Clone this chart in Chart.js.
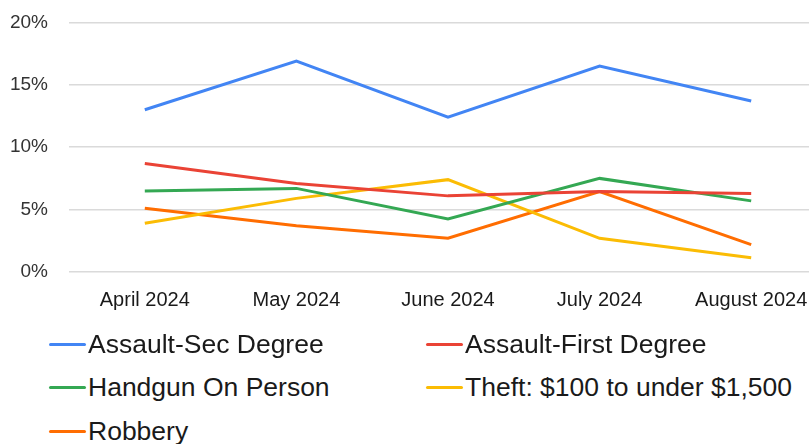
<!DOCTYPE html>
<html>
<head>
<meta charset="utf-8">
<script src="https://cdn.jsdelivr.net/npm/chart.js@4/dist/chart.umd.min.js"></script>
<style>
  html, body { margin: 0; padding: 0; background: #fff; overflow: hidden; }
  #wrap { position: relative; width: 827px; height: 338px; margin-top: -10px; }
  #legend { position: absolute; left: 0; top: 322px; width: 809px; }
  .item { position: absolute; display: flex; align-items: center; height: 44px;
          font-family: "Liberation Sans", sans-serif; font-size: 26.5px; color: #1a1a1a; }
  .item span.sw { display: inline-block; width: 37px; height: 3px; margin-right: 2px; border-radius: 2px; }
</style>
</head>
<body>
<div id="wrap"><canvas id="lineChart"></canvas></div>
<div id="legend"></div>
<script>
const months = ['April 2024', 'May 2024', 'June 2024', 'July 2024', 'August 2024'];
const seriesNames = ['Assault-Sec Degree', 'Assault-First Degree', 'Handgun On Person', 'Theft: $100 to under $1,500', 'Robbery'];
const assaultSec = [13.0, 16.9, 12.4, 16.5, 13.7];
const assaultFirst = [8.7, 7.1, 6.1, 6.45, 6.3];
const handgun = [6.5, 6.7, 4.25, 7.5, 5.7];
const theft = [3.9, 5.9, 7.4, 2.7, 1.15];
const robbery = [5.1, 3.7, 2.7, 6.45, 2.2];
const yTicks = [0, 5, 10, 15, 20];

const colors = ['#4285F4', '#EA4335', '#34A853', '#FBBC04', '#FF6D01'];
const allData = [assaultSec, assaultFirst, handgun, theft, robbery];

const datasets = seriesNames.map((name, i) => ({
    label: name,
    data: allData[i],
    borderColor: colors[i],
    backgroundColor: colors[i],
    borderWidth: 3,
    pointRadius: 0,
    tension: 0,
    fill: false
}));

new Chart(document.getElementById('lineChart'), {
    type: 'line',
    data: { labels: months, datasets: datasets },
    options: {
        responsive: true,
        maintainAspectRatio: false,
        animation: false,
        layout: { padding: { top: 7, right: 0, bottom: 0, left: 0 } },
        plugins: { legend: { display: false }, tooltip: { enabled: false } },
        scales: {
            x: {
                offset: true,
                grid: { display: false, drawTicks: false },
                border: { display: false },
                ticks: {
                    padding: 16,
                    color: '#1a1a1a',
                    maxRotation: 0,
                    font: { family: '"Liberation Sans", sans-serif', size: 20 }
                }
            },
            y: {
                min: 0,
                max: 20,
                afterBuildTicks: (scale) => { scale.ticks = yTicks.map(v => ({ value: v })); },
                afterFit: (scale) => { scale.width = 69; },
                grid: { color: '#dadada', lineWidth: 1.5, drawTicks: false },
                border: { display: false },
                ticks: {
                    padding: 21,
                    color: '#333',
                    callback: (v) => v + '%',
                    font: { family: '"Liberation Sans", sans-serif', size: 19 }
                }
            }
        }
    }
});

// legend in two columns, as in the original picture
const legendBox = document.getElementById('legend');
const colLeft = [49, 426];
seriesNames.forEach((name, i) => {
    const div = document.createElement('div');
    div.className = 'item';
    div.style.left = colLeft[i % 2] + 'px';
    div.style.top = (Math.floor(i / 2) * 43.5) + 'px';
    div.innerHTML = '<span class="sw" style="background:' + colors[i] + '"></span>' + name;
    legendBox.appendChild(div);
});
</script>
</body>
</html>
